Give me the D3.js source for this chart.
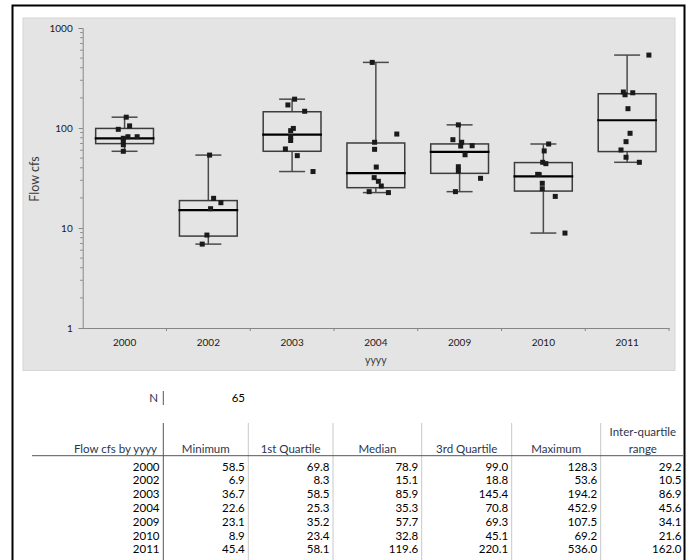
<!DOCTYPE html>
<html>
<head>
<meta charset="utf-8">
<script src="https://cdn.jsdelivr.net/npm/d3@7/dist/d3.min.js"></script>
<style>
  html, body { margin: 0; padding: 0; background: #ffffff; }
  svg { display: block; font-family: Lato, "Open Sans", sans-serif; }
</style>
</head>
<body>
<svg id="chart" width="691" height="560"></svg>
<script>
// ---------------- data ----------------
const years    = ["2000", "2002", "2003", "2004", "2009", "2010", "2011"];
const minimum  = [58.5, 6.9, 36.7, 22.6, 23.1, 8.9, 45.4];
const quart1   = [69.8, 8.3, 58.5, 25.3, 35.2, 23.4, 58.1];
const median   = [78.9, 15.1, 85.9, 35.3, 57.7, 32.8, 119.6];
const quart3   = [99.0, 18.8, 145.4, 70.8, 69.3, 45.1, 220.1];
const maximum  = [128.3, 53.6, 194.2, 452.9, 107.5, 69.2, 536.0];
const iqr      = [29.2, 10.5, 86.9, 45.6, 34.1, 21.6, 162.0];
const totalN   = 65;
const yTickValues = [1, 10, 100, 1000];
const columnHeaders = ["Minimum", "1st Quartile", "Median", "3rd Quartile", "Maximum", ["Inter-quartile", "range"]];

// individual observations (year, flow, horizontal jitter as fraction of category width)
const obsYear = [
  "2000","2000","2000","2000","2000","2000","2000","2000","2000",
  "2002","2002","2002","2002","2002","2002",
  "2003","2003","2003","2003","2003","2003","2003","2003","2003","2003",
  "2004","2004","2004","2004","2004","2004","2004","2004","2004","2004",
  "2009","2009","2009","2009","2009","2009","2009","2009","2009","2009",
  "2010","2010","2010","2010","2010","2010","2010","2010","2010","2010",
  "2011","2011","2011","2011","2011","2011","2011","2011","2011","2011"
];
const obsFlow = [
  128.3, 105, 97, 81.8, 81.8, 78.9, 74, 68, 58.5,
  53.6, 19.8, 17.9, 15.6, 8.5, 6.9,
  194.2, 170, 147, 99, 94, 82, 75, 61.7, 52.9, 36.7,
  452.9, 87, 72, 61.2, 40.7, 31.9, 29.3, 26.3, 23.1, 22.6,
  107.5, 76.4, 72, 66.5, 66, 54, 41, 37.2, 31.4, 23.1,
  69.2, 59, 45.4, 44, 34.4, 34.2, 28, 24.7, 20.7, 8.9,
  536.0, 229, 225, 215, 156, 88.5, 73, 60.3, 51, 45.4
];
const obsJitter = [
  0.02, 0.06, -0.075, 0.04, 0.15, -0.015, -0.015, -0.015, -0.015,
  0.015, 0.063, 0.15, 0.027, -0.017, -0.073,
  0.03, -0.05, 0.15, 0.015, -0.017, -0.017, -0.017, -0.08, 0.062, 0.25,
  -0.043, 0.25, -0.015, -0.015, 0.005, -0.02, 0.03, 0.065, -0.08, 0.15,
  -0.015, -0.08, 0.025, 0.15, 0.013, 0.065, -0.015, -0.015, 0.25, -0.05,
  0.063, 0.01, -0.008, 0.03, -0.068, -0.05, -0.013, -0.013, 0.142, 0.258,
  0.26, -0.045, 0.067, -0.025, 0.01, 0.035, -0.013, -0.073, -0.013, 0.146
];

// ---------------- chart ----------------
const svg = d3.select("#chart");

// outer frame
svg.append("rect").attr("x", 12.5).attr("y", 5.5).attr("width", 672).attr("height", 560)
  .attr("fill", "#ffffff").attr("stroke", "#000000").attr("stroke-width", 2);

// plot panel
svg.append("rect").attr("x", 23).attr("y", 18).attr("width", 652).attr("height", 352.5)
  .attr("fill", "#e4e4e4").attr("stroke", "#d6d6d6").attr("stroke-width", 1);

const x = d3.scaleBand().domain(years).range([82.7, 669]).padding(0);
const y = d3.scaleLog().domain([1, 1000]).range([328, 28]);
const bw = x.bandwidth();
const cx = yr => x(yr) + bw / 2;

// y axis
const yAxis = d3.axisLeft(y).tickValues(yTickValues).tickFormat(d3.format("d")).tickSize(4).tickPadding(6);
const gy = svg.append("g").attr("transform", "translate(82.7,0)").call(yAxis);
gy.select(".domain").attr("stroke", "#868686");
gy.selectAll(".tick line").attr("stroke", "#868686");
gy.selectAll(".tick text").attr("fill", "#1a1a1a").style("font-size", "10px").style("font-family", "Lato");
// minor ticks
const minorTicks = y.ticks().filter(v => !yTickValues.includes(v));
gy.selectAll(".minor").data(minorTicks).enter().append("line")
  .attr("class", "minor").attr("x1", -2.5).attr("x2", 0)
  .attr("y1", d => y(d)).attr("y2", d => y(d)).attr("stroke", "#868686");

// x axis
const xAxis = d3.axisBottom(x).tickSize(0).tickPadding(11);
const gx = svg.append("g").attr("transform", "translate(0,328)").call(xAxis);
gx.select(".domain").attr("stroke", "#868686");
gx.selectAll(".tick text").attr("fill", "#1a1a1a").style("font-size", "10px").style("font-family", "Lato");
// boundary ticks between categories
gx.selectAll(".bt").data(years.slice(1).concat(["end"])).enter().append("line")
  .attr("class", "bt")
  .attr("x1", (d, i) => x(years[0]) + bw * (i + 1)).attr("x2", (d, i) => x(years[0]) + bw * (i + 1))
  .attr("y1", 0).attr("y2", 3).attr("stroke", "#868686");

// axis titles
svg.append("text").attr("transform", "translate(39," + 179 + ") rotate(-90)")
  .attr("text-anchor", "middle").attr("fill", "#3a3a3a")
  .style("font-size", "12.5px").text("Flow cfs");
svg.append("text").attr("x", (82.7 + 669) / 2).attr("y", 364)
  .attr("text-anchor", "middle").attr("fill", "#3a3a3a")
  .style("font-size", "10.5px").text("yyyy");

// boxes
const boxW = bw * 0.69, capW = bw * 0.31;
const gb = svg.append("g");
years.forEach((yr, i) => {
  const c = cx(yr);
  // whiskers
  gb.append("line").attr("x1", c).attr("x2", c).attr("y1", y(maximum[i])).attr("y2", y(quart3[i]))
    .attr("stroke", "#4a4a4a").attr("stroke-width", 1.5);
  gb.append("line").attr("x1", c).attr("x2", c).attr("y1", y(quart1[i])).attr("y2", y(minimum[i]))
    .attr("stroke", "#4a4a4a").attr("stroke-width", 1.5);
  gb.append("line").attr("x1", c - capW / 2).attr("x2", c + capW / 2).attr("y1", y(maximum[i])).attr("y2", y(maximum[i]))
    .attr("stroke", "#4a4a4a").attr("stroke-width", 1.5);
  gb.append("line").attr("x1", c - capW / 2).attr("x2", c + capW / 2).attr("y1", y(minimum[i])).attr("y2", y(minimum[i]))
    .attr("stroke", "#4a4a4a").attr("stroke-width", 1.5);
  // box
  gb.append("rect").attr("x", c - boxW / 2).attr("y", y(quart3[i]))
    .attr("width", boxW).attr("height", y(quart1[i]) - y(quart3[i]))
    .attr("fill", "none").attr("stroke", "#3c3c3c").attr("stroke-width", 1.5);
  // median
  gb.append("line").attr("x1", c - boxW / 2 - 1).attr("x2", c + boxW / 2 + 1)
    .attr("y1", y(median[i])).attr("y2", y(median[i]))
    .attr("stroke", "#000000").attr("stroke-width", 2.2);
});

// points
const ps = 5;
svg.append("g").selectAll("rect").data(obsFlow).enter().append("rect")
  .attr("x", (d, i) => cx(obsYear[i]) + obsJitter[i] * bw - ps / 2)
  .attr("y", d => y(d) - ps / 2)
  .attr("width", ps).attr("height", ps).attr("fill", "#1a1a1a");

// ---------------- table ----------------
const navy = "#2a3650";
const tbl = svg.append("g").style("font-size", "11.5px");
const colEdges = [163.3, 248.3, 333, 421.7, 511.7, 600.7, 685];

// N row
tbl.append("text").attr("x", 158).attr("y", 402).attr("text-anchor", "end").attr("fill", navy).text("N");
tbl.append("line").attr("x1", 163.3).attr("x2", 163.3).attr("y1", 391).attr("y2", 405).attr("stroke", "#555");
tbl.append("text").attr("x", 245).attr("y", 402).attr("text-anchor", "end").attr("fill", "#000").text(totalN);

// header
tbl.append("text").attr("x", 157).attr("y", 453).attr("text-anchor", "end").attr("fill", navy).text("Flow cfs by yyyy");
columnHeaders.forEach((h, j) => {
  const mid = (colEdges[j] + colEdges[j + 1]) / 2;
  if (Array.isArray(h)) {
    tbl.append("text").attr("x", mid).attr("y", 436).attr("text-anchor", "middle").attr("fill", navy).text(h[0]);
    tbl.append("text").attr("x", mid).attr("y", 453).attr("text-anchor", "middle").attr("fill", navy).text(h[1]);
  } else {
    tbl.append("text").attr("x", mid).attr("y", 453).attr("text-anchor", "middle").attr("fill", navy).text(h);
  }
});

// vertical separators
colEdges.slice(0, 6).forEach((e, j) => {
  tbl.append("line").attr("x1", e).attr("x2", e).attr("y1", 423).attr("y2", 560)
    .attr("stroke", j === 0 ? "#555555" : "#c8c8c8").attr("stroke-width", 1);
});
// header underline
tbl.append("line").attr("x1", 32).attr("x2", 683).attr("y1", 455.7).attr("y2", 455.7)
  .attr("stroke", "#555555").attr("stroke-width", 1);

// data rows
const fmt = d3.format(".1f");
const cols = [minimum, quart1, median, quart3, maximum, iqr];
years.forEach((yr, i) => {
  const yy = 470.5 + i * 13.8;
  tbl.append("text").attr("x", 159.5).attr("y", yy).attr("text-anchor", "end").attr("fill", "#000").text(yr);
  cols.forEach((arr, j) => {
    tbl.append("text").attr("x", colEdges[j + 1] - 3.5).attr("y", yy).attr("text-anchor", "end")
      .attr("fill", "#000").text(fmt(arr[i]));
  });
});
</script>
</body>
</html>
